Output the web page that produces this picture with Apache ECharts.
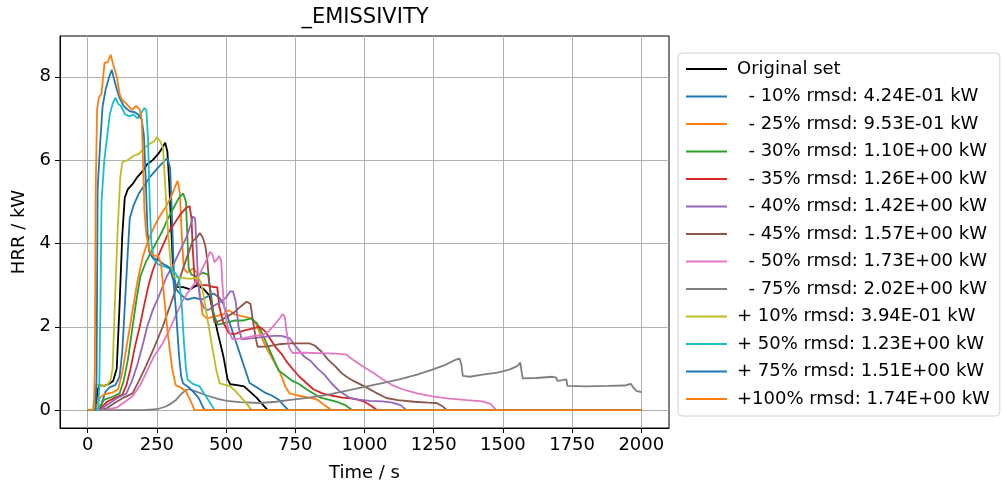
<!DOCTYPE html>
<html>
<head>
<meta charset="utf-8">
<script src="https://cdn.jsdelivr.net/npm/echarts@6/dist/echarts.min.js"></script>
<style>
  html, body { margin: 0; padding: 0; background: #fff; }
  #main { width: 1002px; height: 487px; }
</style>
</head>
<body>
<div id="main"></div>
<script>
// HRR curves, [time s, HRR kW]
var originalSet = [[0,0],[28,0],[35,0.45],[42,0.6],[60,0.58],[75,0.62],[92,0.7],[105,1.0],[115,2.5],[125,4.2],[134,5.1],[145,5.3],[165,5.45],[180,5.6],[200,5.75],[215,5.9],[235,6.0],[255,6.15],[270,6.3],[280,6.42],[288,6.2],[295,5.4],[303,4.2],[310,3.2],[320,2.95],[345,2.95],[370,2.9],[395,3.0],[420,2.9],[440,2.75],[455,2.3],[470,1.85],[490,1.3],[505,0.75],[515,0.62],[540,0.6],[565,0.57],[585,0.45],[610,0.3],[630,0.15],[650,0],[2000,0]];
var minus10 = [[0,0],[40,0],[50,0.15],[65,0.45],[80,0.55],[100,0.6],[115,0.8],[125,1.4],[135,2.6],[145,3.8],[152,4.6],[165,4.9],[185,5.2],[205,5.4],[225,5.6],[245,5.75],[265,5.9],[288,6.05],[298,5.8],[305,4.5],[312,3.2],[320,2.9],[340,2.75],[360,2.65],[385,2.7],[410,2.65],[440,2.75],[455,2.8],[475,2.7],[490,2.55],[510,2.15],[530,1.75],[550,1.35],[570,0.95],[585,0.65],[610,0.55],[640,0.42],[665,0.35],[690,0.25],[710,0.1],[725,0],[2000,0]];
var minus25 = [[0,0],[25,0],[35,0.15],[45,0.3],[60,0.38],[90,0.42],[110,0.5],[125,0.9],[140,1.5],[160,2.3],[180,3.1],[200,3.7],[220,4.1],[240,4.4],[260,4.65],[280,4.85],[300,5.1],[315,5.35],[325,5.5],[333,5.2],[340,4.2],[347,3.4],[360,3.3],[380,3.4],[395,3.3],[405,2.8],[415,2.3],[430,2.2],[460,2.25],[490,2.3],[510,2.4],[530,2.3],[560,2.25],[590,2.2],[610,2.05],[625,1.8],[645,1.5],[670,1.2],[695,0.9],[715,0.55],[730,0.4],[760,0.35],[800,0.3],[830,0.25],[855,0.12],[880,0],[2000,0]];
var minus30 = [[0,0],[35,0],[45,0.1],[60,0.25],[90,0.32],[115,0.4],[130,0.7],[145,1.2],[160,1.9],[175,2.6],[190,3.2],[210,3.55],[230,3.8],[250,4.05],[270,4.3],[290,4.6],[310,4.85],[330,5.1],[345,5.2],[355,5.0],[360,4.2],[365,3.4],[375,3.25],[395,3.2],[415,3.3],[435,3.25],[445,2.8],[455,2.3],[470,2.05],[500,2.1],[530,2.15],[560,2.15],[590,2.2],[610,2.1],[630,1.85],[650,1.55],[670,1.25],[690,0.95],[710,0.85],[740,0.7],[765,0.62],[790,0.5],[815,0.4],[840,0.3],[870,0.25],[900,0.2],[930,0.12],[955,0],[2000,0]];
var minus35 = [[0,0],[40,0],[55,0.1],[70,0.2],[100,0.3],[125,0.37],[140,0.6],[155,1.0],[170,1.5],[188,2.0],[205,2.55],[220,3.0],[235,3.35],[255,3.7],[275,4.0],[295,4.3],[315,4.5],[335,4.7],[355,4.85],[368,4.9],[375,4.6],[380,3.8],[387,3.1],[400,3.0],[430,3.0],[455,2.95],[468,2.95],[475,2.5],[490,2.1],[510,1.85],[530,1.82],[560,1.9],[590,1.95],[620,2.0],[640,1.9],[660,1.7],[680,1.5],[700,1.35],[720,1.15],[745,0.95],[765,0.8],[790,0.65],[815,0.5],[848,0.4],[880,0.35],[920,0.3],[950,0.28],[975,0.25],[1000,0.2],[1025,0.1],[1045,0],[2000,0]];
var minus40 = [[0,0],[45,0],[60,0.08],[80,0.17],[110,0.3],[140,0.4],[160,0.7],[180,1.1],[200,1.6],[215,2.0],[235,2.4],[255,2.7],[285,3.2],[310,3.5],[335,3.85],[357,4.15],[372,4.45],[380,4.65],[388,4.6],[393,4.0],[398,3.2],[405,2.7],[420,2.45],[435,2.4],[455,2.5],[480,2.6],[500,2.7],[515,2.85],[525,2.85],[535,2.6],[545,2.0],[556,1.7],[590,1.72],[630,1.75],[670,1.78],[700,1.78],[730,1.72],[755,1.5],[780,1.3],[805,1.18],[830,1.0],[855,0.85],[880,0.65],[910,0.45],[945,0.3],[980,0.25],[1020,0.22],[1065,0.21],[1100,0.18],[1130,0.12],[1152,0],[2000,0]];
var minus45 = [[0,0],[50,0],[70,0.05],[90,0.14],[130,0.3],[162,0.4],[185,0.7],[210,1.05],[240,1.5],[271,2.0],[300,2.55],[332,3.15],[355,3.6],[379,4.05],[395,4.15],[405,4.25],[415,4.15],[425,3.95],[432,3.6],[440,3.0],[450,2.4],[458,2.1],[480,2.15],[505,2.25],[530,2.35],[555,2.5],[574,2.6],[588,2.55],[598,2.1],[608,1.7],[614,1.52],[650,1.53],[690,1.58],[730,1.6],[770,1.6],[801,1.6],[820,1.55],[845,1.4],[870,1.2],[895,1.05],[915,0.9],[935,0.8],[960,0.7],[1000,0.57],[1040,0.42],[1079,0.29],[1120,0.24],[1180,0.2],[1230,0.18],[1260,0.17],[1280,0.1],[1298,0],[2000,0]];
var minus50 = [[0,0],[60,0],[80,0.03],[105,0.06],[135,0.2],[162,0.33],[190,0.6],[215,0.95],[240,1.3],[271,1.6],[300,2.0],[320,2.3],[343,2.63],[365,2.85],[393,3.1],[415,3.4],[432,3.65],[442,3.8],[450,3.75],[458,3.55],[465,3.6],[475,3.7],[482,3.6],[487,3.0],[493,2.5],[500,2.2],[510,1.9],[523,1.7],[560,1.72],[600,1.78],[632,1.8],[655,1.9],[675,2.05],[693,2.2],[704,2.3],[712,2.25],[718,1.9],[728,1.5],[740,1.37],[780,1.38],[820,1.37],[870,1.36],[910,1.35],[935,1.33],[960,1.2],[993,1.05],[1030,0.9],[1065,0.74],[1100,0.6],[1137,0.5],[1190,0.4],[1245,0.33],[1300,0.28],[1370,0.24],[1426,0.21],[1455,0.15],[1476,0],[2000,0]];
var minus75 = [[0,0],[200,0],[250,0.02],[280,0.08],[300,0.15],[320,0.25],[340,0.4],[355,0.48],[365,0.5],[390,0.45],[430,0.35],[470,0.27],[502,0.22],[550,0.19],[621,0.17],[680,0.2],[740,0.25],[800,0.3],[860,0.36],[946,0.48],[1000,0.56],[1060,0.64],[1126,0.74],[1190,0.85],[1245,0.97],[1290,1.08],[1320,1.18],[1343,1.24],[1350,1.1],[1355,0.82],[1380,0.8],[1426,0.85],[1480,0.9],[1523,0.97],[1550,1.05],[1563,1.14],[1568,0.9],[1572,0.76],[1620,0.77],[1680,0.8],[1693,0.78],[1697,0.7],[1715,0.72],[1729,0.74],[1733,0.58],[1800,0.57],[1880,0.58],[1940,0.59],[1962,0.63],[1970,0.55],[1982,0.46],[2000,0.43]];
var plus10 = [[0,0],[18,0],[25,0.3],[30,0.6],[40,0.62],[55,0.58],[70,0.6],[82,0.7],[90,1.0],[98,2.5],[108,4.3],[118,5.6],[125,5.95],[145,6.0],[165,6.1],[185,6.15],[205,6.3],[225,6.4],[240,6.45],[250,6.55],[262,6.45],[272,6.3],[280,5.4],[290,4.3],[300,3.5],[310,3.2],[340,3.18],[370,3.15],[400,3.18],[410,3.05],[420,2.7],[435,2.1],[450,1.5],[465,0.95],[477,0.64],[500,0.6],[515,0.57],[535,0.45],[555,0.3],[575,0.15],[592,0],[2000,0]];
var plus50 = [[0,0],[38,0],[42,0.6],[46,2.5],[50,5.0],[60,6.0],[69,6.5],[80,7.1],[90,7.35],[100,7.5],[110,7.35],[120,7.3],[135,7.1],[150,7.05],[165,7.1],[180,7.0],[195,7.15],[205,7.25],[212,7.2],[218,6.5],[224,5.0],[230,4.0],[240,3.6],[255,3.5],[275,3.45],[295,3.4],[315,3.3],[330,3.15],[340,2.5],[348,1.6],[355,1.0],[361,0.73],[380,0.63],[404,0.57],[420,0.4],[440,0.2],[458,0],[2000,0]];
var plus75 = [[0,0],[28,0],[32,0.8],[36,5.3],[45,6.4],[54,7.3],[65,7.7],[78,8.0],[87,8.17],[95,7.95],[105,7.7],[115,7.5],[130,7.3],[152,7.17],[170,7.15],[181,7.1],[195,6.98],[203,6.6],[210,5.5],[216,4.3],[222,3.8],[235,3.65],[255,3.6],[275,3.5],[296,3.42],[310,3.1],[320,2.3],[330,1.3],[338,0.8],[345,0.64],[365,0.55],[380,0.45],[400,0.3],[422,0],[2000,0]];
var plus100 = [[0,0],[22,0],[26,1.0],[29,5.3],[34,7.2],[40,7.5],[50,7.6],[61,8.34],[72,8.35],[83,8.53],[92,8.3],[105,8.0],[115,7.6],[123,7.46],[140,7.35],[160,7.2],[175,7.3],[188,7.22],[195,7.0],[200,6.0],[205,4.8],[212,4.2],[225,3.8],[240,3.7],[255,3.7],[265,3.5],[275,2.8],[290,1.8],[305,1.0],[318,0.6],[339,0.53],[355,0.45],[370,0.25],[386,0],[2000,0]];

var seriesNames = ['Original set',
  '  - 10% rmsd: 4.24E-01 kW', '  - 25% rmsd: 9.53E-01 kW', '  - 30% rmsd: 1.10E+00 kW',
  '  - 35% rmsd: 1.26E+00 kW', '  - 40% rmsd: 1.42E+00 kW', '  - 45% rmsd: 1.57E+00 kW',
  '  - 50% rmsd: 1.73E+00 kW', '  - 75% rmsd: 2.02E+00 kW', '+ 10% rmsd: 3.94E-01 kW',
  '+ 50% rmsd: 1.23E+00 kW', '+ 75% rmsd: 1.51E+00 kW', '+100% rmsd: 1.74E+00 kW'];
var seriesData = [originalSet, minus10, minus25, minus30, minus35, minus40, minus45,
  minus50, minus75, plus10, plus50, plus75, plus100];
var lineColors = ['#000000', '#1f77b4', '#ff7f0e', '#2ca02c', '#d62728', '#9467bd',
  '#8c564b', '#e377c2', '#7f7f7f', '#bcbd22', '#17becf', '#1f77b4', '#ff7f0e'];
var xTicks = [0, 250, 500, 750, 1000, 1250, 1500, 1750, 2000];
var yTicks = [0, 2, 4, 6, 8];

var font = 'DejaVu Sans';
var myChart = echarts.init(document.getElementById('main'));

var series = seriesData.map(function (d, i) {
  return {
    name: seriesNames[i],
    type: 'line',
    data: d,
    symbol: 'none',
    color: lineColors[i],
    lineStyle: { width: 1.8, color: lineColors[i] },
    animation: false
  };
});

option = {
  animation: false,
  backgroundColor: '#fff',
  title: {
    text: '_EMISSIVITY',
    left: 360,
    top: 2,
    textAlign: 'center',
    textStyle: { fontFamily: font, fontSize: 21, fontWeight: 'normal', color: '#000' }
  },
  legend: {
    orient: 'vertical',
    left: 678,
    top: 53,
    padding: [7, 10, 8, 8],
    icon: 'rect',
    itemWidth: 41,
    itemHeight: 2,
    itemGap: 9.5,
    backgroundColor: '#fff',
    borderColor: '#d0d0d0',
    borderWidth: 1,
    borderRadius: 4,
    textStyle: { fontFamily: font, fontSize: 18, color: '#000', padding: [0, 0, 0, 5] },
    data: seriesNames
  },
  grid: {
    left: 60,
    right: 333,
    top: 36,
    bottom: 56,
    show: true,
    borderColor: '#000',
    borderWidth: 1
  },
  xAxis: {
    type: 'value',
    min: -100,
    max: 2100,
    name: 'Time / s',
    nameLocation: 'middle',
    nameGap: 36,
    nameTextStyle: { fontFamily: font, fontSize: 18, color: '#000' },
    axisLine: { show: true, onZero: false, lineStyle: { color: '#000', width: 1 } },
    axisTick: { show: true, inside: false, length: 5, customValues: xTicks, lineStyle: { color: '#000' } },
    axisLabel: {
      customValues: xTicks, margin: 8, fontFamily: font, fontSize: 18, color: '#000',
      formatter: function (v) { return String(v); }
    },
    splitLine: { show: true, lineStyle: { color: '#b0b0b0', width: 1 } }
  },
  yAxis: {
    type: 'value',
    min: -0.43,
    max: 8.98,
    name: 'HRR / kW',
    nameLocation: 'middle',
    nameGap: 32,
    nameTextStyle: { fontFamily: font, fontSize: 18, color: '#000' },
    axisLine: { show: true, onZero: false, lineStyle: { color: '#000', width: 1 } },
    axisTick: { show: true, inside: false, length: 5, customValues: yTicks, lineStyle: { color: '#000' } },
    axisLabel: { customValues: yTicks, margin: 9, fontFamily: font, fontSize: 18, color: '#000' },
    splitLine: { show: true, lineStyle: { color: '#b0b0b0', width: 1 } }
  },
  series: series
};
myChart.setOption(option);
</script>
</body>
</html>
